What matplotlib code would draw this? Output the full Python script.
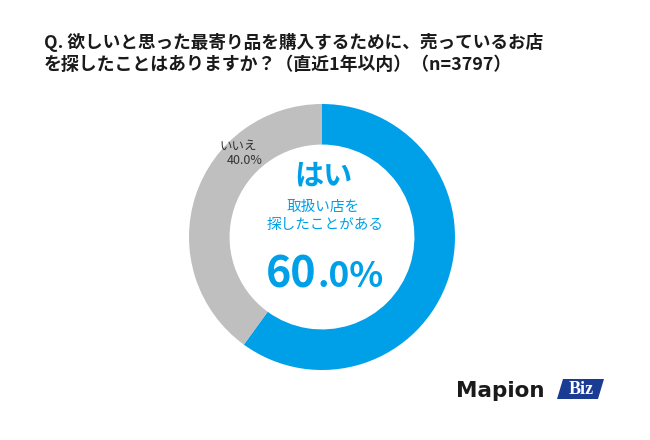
import matplotlib
matplotlib.use("Agg")
import matplotlib.pyplot as plt
from matplotlib.patches import Polygon

plt.rcParams['font.family'] = ['Noto Sans CJK JP', 'DejaVu Sans']

labels = ["はい", "いいえ"]
values = [60.0, 40.0]
colors = ["#00A0E9", "#BFBFBF"]
title_lines = ["Q. 欲しいと思った最寄り品を購入するために、売っているお店",
               "を探したことはありますか？（直近1年以内）（n=3797）"]
yes_sub = ["取扱い店を", "探したことがある"]

W, H = 650, 440
fig = plt.figure(figsize=(W / 100, H / 100), dpi=100)
fig.patch.set_facecolor("white")

def fx(x):
    return x / W

def fy(y):
    return 1 - y / H

# donut axes: center (322,237), radius 133 px
cx, cy, r = 322, 237, 133
ax = fig.add_axes([fx(cx - r), fy(cy + r), 2 * r / W, 2 * r / H])
ax.pie(values, colors=colors, startangle=90, counterclock=False,
       radius=1.0, wedgeprops=dict(width=0.305, edgecolor="none"))
ax.set_xlim(-1, 1)
ax.set_ylim(-1, 1)
ax.set_aspect("equal")
ax.axis("off")

# title
fig.text(fx(44), fy(42.5), title_lines[0], fontsize=12.7, fontweight="bold",
         color="#1a1a1a", ha="left", va="center")
fig.text(fx(44), fy(64.5), title_lines[1], fontsize=12.9, fontweight="bold",
         color="#1a1a1a", ha="left", va="center")

blue = colors[0]
# center labels
fig.text(fx(323), fy(176), labels[0], fontsize=21, fontweight="bold",
         color=blue, ha="center", va="center")
fig.text(fx(323), fy(207), yes_sub[0], fontsize=10.5, color=blue,
         ha="center", va="center")
fig.text(fx(325), fy(225), yes_sub[1], fontsize=10.5, color=blue,
         ha="center", va="center")

pct = f"{values[0]:.1f}%"
int_part, dec_part = pct.split(".")
fig.text(fx(317), fy(287), int_part, fontsize=31, fontweight="bold",
         color=blue, ha="right", va="baseline")
fig.text(fx(317), fy(287), "." + dec_part, fontsize=25.5, fontweight="bold",
         color=blue, ha="left", va="baseline")

# no label
fig.text(fx(238), fy(146), labels[1], fontsize=9, color="#333333",
         ha="center", va="center")
fig.text(fx(245), fy(160), f"{values[1]:.1f}%", fontsize=9, color="#333333",
         ha="center", va="center")

# logo
fig.text(fx(456), fy(397), "Mapion", fontsize=15.5, fontweight="bold",
         color="#1a1a1a", ha="left", va="baseline", family=["DejaVu Sans"])
poly = Polygon([(fx(557), fy(399)), (fx(598), fy(399)), (fx(604), fy(379)),
                (fx(563), fy(379))], closed=True, transform=fig.transFigure,
               facecolor="#1B3C93", edgecolor="none")
fig.patches.append(poly)
fig.text(fx(581), fy(389.5), "Biz", fontsize=13, fontweight="bold",
         color="white", ha="center", va="center",
         family=["Liberation Serif", "DejaVu Serif"])

fig.savefig("out.png", dpi=100, facecolor="white")
